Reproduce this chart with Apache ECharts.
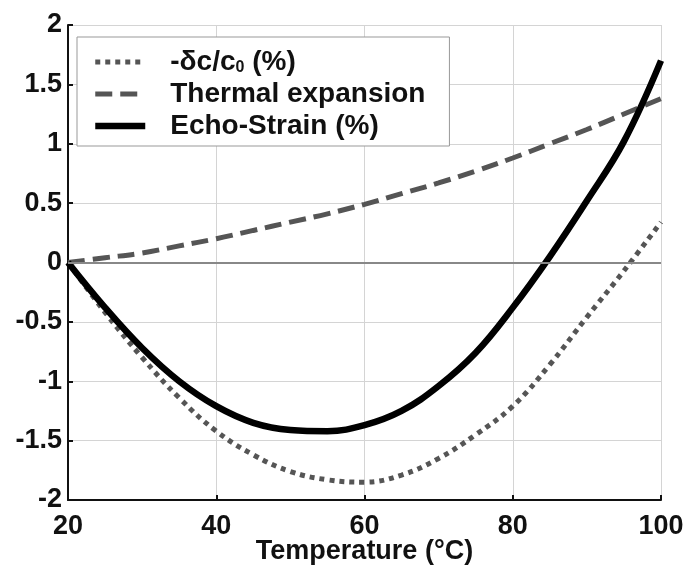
<!DOCTYPE html>
<html>
<head>
<meta charset="utf-8">
<script src="https://cdn.jsdelivr.net/npm/echarts@6/dist/echarts.min.js"></script>
<style>html,body{margin:0;padding:0;background:#fff}#c{width:689px;height:568px}</style>
</head>
<body>
<div id="c"></div>
<script>
var temperature = [20,25,30,35,40,45,50,55,60,65,70,75,80,85,90,95,100];
var deltaC = [0,-0.42,-0.80,-1.14,-1.42,-1.62,-1.76,-1.83,-1.85,-1.79,-1.65,-1.45,-1.21,-0.86,-0.46,-0.07,0.34];
var thermal = [0,0.04,0.08,0.14,0.20,0.27,0.34,0.41,0.49,0.58,0.67,0.77,0.88,1.00,1.12,1.25,1.38];
var echo = [0,-0.38,-0.72,-1.00,-1.21,-1.35,-1.41,-1.42,-1.37,-1.25,-1.04,-0.76,-0.38,0.05,0.52,1.02,1.70];
var names = ['-\u03b4c/c0 (%)', 'Thermal expansion', 'Echo-Strain (%)'];

function pairs(ys){ return temperature.map(function(x,i){ return [x, ys[i]]; }); }

var font = 'Liberation Sans, Arial, sans-serif';
var chart = echarts.init(document.getElementById('c'));
chart.setOption({
  animation: false,
  backgroundColor: '#fff',
  grid: {left: 68, right: 28, top: 25, bottom: 68, outerBoundsMode: 'none', containLabel: false},
  legend: {
    orient: 'vertical', left: 77, top: 37,
    data: names,
    itemWidth: 50, itemHeight: 20, itemGap: 0,
    padding: [9, 24, 4, 15],
    borderColor: '#999', borderWidth: 1, backgroundColor: '#fff',
    itemStyle: {opacity: 0},
    lineStyle: {width: 'inherit', type: 'inherit', color: 'inherit'},
    formatter: function(n){
      if (n === names[0]) return '{t|-\u03b4c/c}{s|0}{t| (%)}';
      return '{t|' + n + '}';
    },
    textStyle: {
      fontFamily: font, fontWeight: 'bold', fontSize: 28, color: '#111', lineHeight: 32,
      padding: [0, 0, 0, 20],
      rich: {
        t: {fontFamily: font, fontWeight: 'bold', fontSize: 28, color: '#111', lineHeight: 32},
        s: {fontFamily: font, fontWeight: 'bold', fontSize: 16, color: '#111', lineHeight: 32, padding: [12, 0, 0, 0]}
      }
    }
  },
  xAxis: {
    type: 'value', min: 20, max: 100, interval: 20,
    name: 'Temperature (\u00b0C)', nameLocation: 'middle', nameGap: 38, nameMoveOverlap: false,
    nameTextStyle: {fontFamily: font, fontWeight: 'bold', fontSize: 27, color: '#111'},
    axisLine: {show: true, onZero: false, lineStyle: {color: '#111', width: 2}},
    axisTick: {show: true, inside: true, length: 5, lineStyle: {color: '#111', width: 2}},
    axisLabel: {fontFamily: font, fontWeight: 'bold', fontSize: 27, color: '#111', margin: 13},
    splitLine: {show: true, lineStyle: {color: '#d4d4d4', width: 1}}
  },
  yAxis: {
    type: 'value', min: -2, max: 2, interval: 0.5,
    axisLine: {show: true, onZero: false, lineStyle: {color: '#111', width: 2}},
    axisTick: {show: true, inside: true, length: 5, lineStyle: {color: '#111', width: 2}},
    axisLabel: {fontFamily: font, fontWeight: 'bold', fontSize: 27, color: '#111', margin: 6},
    splitLine: {show: true, lineStyle: {color: '#d4d4d4', width: 1}}
  },
  series: [
    {
      name: names[0], type: 'line', data: pairs(deltaC), smooth: 0.4, symbol: 'none',
      lineStyle: {color: '#555', width: 5, type: [5, 5], cap: 'butt'},
      itemStyle: {color: '#555'},
      markLine: {
        silent: true, symbol: 'none', label: {show: false},
        lineStyle: {color: '#888', width: 2, type: 'solid'},
        data: [{yAxis: 0}]
      },
      z: 3
    },
    {
      name: names[1], type: 'line', data: pairs(thermal), smooth: 0.4, symbol: 'none',
      lineStyle: {color: '#555', width: 5, type: [17, 8]},
      itemStyle: {color: '#555'},
      z: 3
    },
    {
      name: names[2], type: 'line', data: pairs(echo), smooth: 0.4, symbol: 'none',
      lineStyle: {color: '#000', width: 6.5},
      itemStyle: {color: '#000'},
      z: 4
    }
  ]
});
</script>
</body>
</html>
